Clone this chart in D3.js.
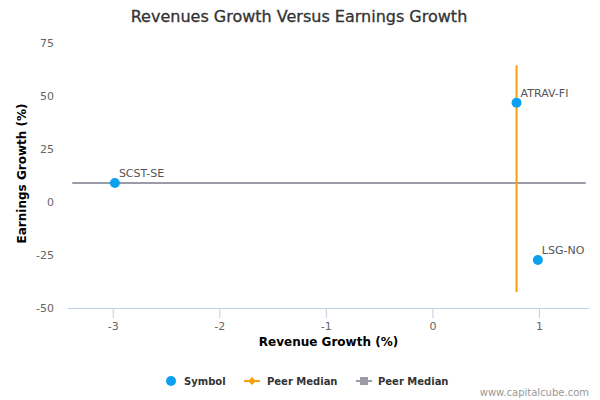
<!DOCTYPE html>
<html>
<head>
<meta charset="utf-8">
<script src="https://cdn.jsdelivr.net/npm/d3@7"></script>
<style>
	body { margin: 0; background: #fff; }
	svg { font-family: 'DejaVu Sans', sans-serif; }
</style>
</head>
<body>
<svg id="chart" width="600" height="400"></svg>
<script>
// companies: revenue growth (%) vs earnings growth (%)
const symbols = ['SCST-SE', 'ATRAV-FI', 'LSG-NO'];
const revenueGrowth = [-2.98, 0.79, 0.99];
const earningsGrowth = [9, 46.8, -27.4];

// peer medians drawn as lines
const peerMedianRevenue = 0.79;
const peerMedianEarnings = 9;
const verticalSpan = [-42.5, 64.5];
const horizontalSpan = [-3.38, 1.44];

const xTicks = [-3, -2, -1, 0, 1];
const yTicks = [-50, -25, 0, 25, 50, 75];

const svg = d3.select('#chart');
const plot = {left: 68, right: 589, top: 43, bottom: 308};

const x = d3.scaleLinear().domain([-3.42, 1.47]).range([plot.left, plot.right]);
const y = d3.scaleLinear().domain([-50, 75]).range([plot.bottom, plot.top]);

const plainNum = d => String(d); // hyphen minus like the original

// title
svg.append('text')
	.attr('x', 299).attr('y', 22)
	.attr('text-anchor', 'middle')
	.style('font-size', '16px')
	.style('fill', '#333')
	.style('stroke', '#333').style('stroke-width', '0.3px')
	.text('Revenues Growth Versus Earnings Growth');

// x axis
const xAxis = svg.append('g')
	.attr('transform', `translate(0,${plot.bottom})`)
	.call(d3.axisBottom(x).tickValues(xTicks).tickSize(10).tickPadding(4).tickFormat(plainNum));
xAxis.select('.domain').attr('stroke', '#C0D0E0').attr('d', `M${plot.left},0.5H${plot.right}`);
xAxis.selectAll('.tick line').attr('stroke', '#C0D0E0');
xAxis.selectAll('.tick text').style('font-size', '11px').style('fill', '#666').style('font-family', 'DejaVu Sans');

// y axis (labels only)
const yAxis = svg.append('g')
	.attr('transform', `translate(${plot.left},0)`)
	.call(d3.axisLeft(y).tickValues(yTicks).tickSize(0).tickPadding(14).tickFormat(plainNum));
yAxis.select('.domain').remove();
yAxis.selectAll('.tick text').style('font-size', '11px').style('fill', '#666').style('font-family', 'DejaVu Sans');

// axis titles
svg.append('text')
	.attr('x', (plot.left + plot.right) / 2).attr('y', 346)
	.attr('text-anchor', 'middle')
	.style('font-size', '12px').style('font-weight', 'bold').style('fill', '#000')
	.text('Revenue Growth (%)');

svg.append('text')
	.attr('transform', `translate(26,${(plot.top + plot.bottom) / 2 - 2}) rotate(-90)`)
	.attr('text-anchor', 'middle')
	.style('font-size', '12px').style('font-weight', 'bold').style('fill', '#000')
	.text('Earnings Growth (%)');

// peer median lines
svg.append('line')
	.attr('x1', x(horizontalSpan[0])).attr('x2', x(horizontalSpan[1]))
	.attr('y1', y(peerMedianEarnings)).attr('y2', y(peerMedianEarnings))
	.attr('stroke', '#9A9BA6').attr('stroke-width', 2);

svg.append('line')
	.attr('x1', x(peerMedianRevenue)).attr('x2', x(peerMedianRevenue))
	.attr('y1', y(verticalSpan[0])).attr('y2', y(verticalSpan[1]))
	.attr('stroke', '#F5A00F').attr('stroke-width', 2);

// points
const data = symbols.map((s, i) => ({name: s, rev: revenueGrowth[i], earn: earningsGrowth[i]}));

svg.selectAll('circle.pt')
	.data(data)
	.enter()
	.append('circle')
	.attr('class', 'pt')
	.attr('cx', d => x(d.rev))
	.attr('cy', d => y(d.earn))
	.attr('r', 5)
	.attr('fill', '#0DA0EE');

svg.selectAll('text.lbl')
	.data(data)
	.enter()
	.append('text')
	.attr('class', 'lbl')
	.attr('x', d => x(d.rev) + 4)
	.attr('y', d => y(d.earn) - 6)
	.style('font-size', '11px')
	.style('fill', '#555')
	.text(d => d.name);

// legend
const legend = svg.append('g').attr('transform', 'translate(0,381)');
legend.append('circle').attr('cx', 171).attr('cy', 0).attr('r', 5).attr('fill', '#0DA0EE');
legend.append('text').attr('x', 184).attr('y', 4).text('Symbol');

legend.append('line').attr('x1', 244).attr('x2', 260).attr('y1', 0).attr('y2', 0).attr('stroke', '#F5A00F').attr('stroke-width', 2);
legend.append('path').attr('d', 'M252,-4L256,0L252,4L248,0Z').attr('fill', '#F5A00F');
legend.append('text').attr('x', 267).attr('y', 4).text('Peer Median');

legend.append('line').attr('x1', 356).attr('x2', 372).attr('y1', 0).attr('y2', 0).attr('stroke', '#9A9BA6').attr('stroke-width', 2);
legend.append('rect').attr('x', 360).attr('y', -4).attr('width', 8).attr('height', 8).attr('fill', '#9A9BA6');
legend.append('text').attr('x', 378).attr('y', 4).text('Peer Median');

legend.selectAll('text').style('font-size', '10px').style('font-weight', 'bold').style('fill', '#333');

// credit
svg.append('text')
	.attr('x', 589).attr('y', 396)
	.attr('text-anchor', 'end')
	.style('font-size', '10px')
	.style('fill', '#999')
	.text('www.capitalcube.com');
</script>
</body>
</html>
